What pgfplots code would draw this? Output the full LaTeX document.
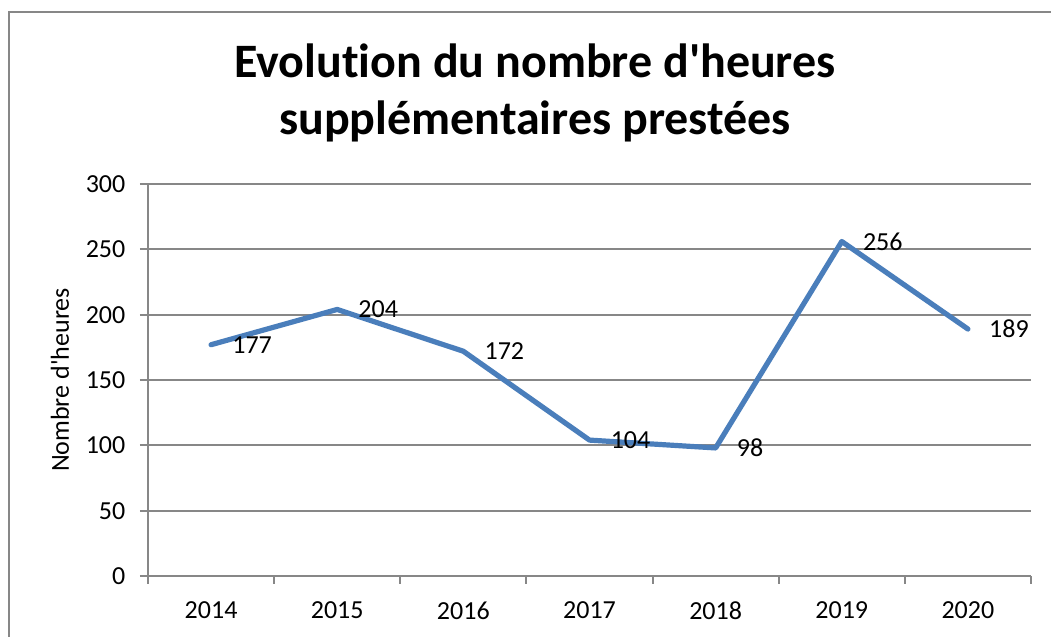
\documentclass[border=0pt]{standalone}
\usepackage{fontspec}
\setmainfont{Carlito}[Ligatures={TeXOff,NoCommon}]
\usepackage{pgfplots}
\pgfplotsset{compat=1.18}
\definecolor{serie}{HTML}{4A7EBB}
\definecolor{gridg}{HTML}{878787}
\begin{document}
\begin{tikzpicture}[x=0.5pt,y=0.5pt]
\useasboundingbox (0,0) rectangle (1051,637);
\clip (0,0) rectangle (1051,637);
\draw[gridg, line width=1pt] (9,-20) -- (9,625) -- (1080,625);
\node[font=\fontsize{24}{29}\selectfont\bfseries, anchor=base] at (535,559) {Evolution du nombre d'heures};
\node[font=\fontsize{24}{29}\selectfont\bfseries, anchor=base] at (535,502) {supplémentaires prestées};
\begin{axis}[
  at={(74pt,30.5pt)}, anchor=south west,
  scale only axis, width=441.5pt, height=196pt,
  xmin=-0.5, xmax=6.5, ymin=0, ymax=300,
  axis lines=left, axis line style={gridg, line width=1pt, -},
  ytick={0,50,...,300}, ymajorgrids, grid style={gridg, line width=1pt},
  xtick={-0.5,0.5,...,6.5}, xticklabels={},
  extra x ticks={0,1,2,3,4,5,6},
  extra x tick labels={2014,2015,2016,2017,2018,2019,2020},
  extra x tick style={major tick length=0pt, xticklabel style={yshift=-9.5pt}},
  tick align=outside, major tick length=4pt,
  tick style={gridg, line width=1pt},
  /pgf/number format/assume math mode=true,
  every tick label/.append style={font=\fontsize{13}{15.6}\selectfont},
  yticklabel style={xshift=-3.8pt},
  ylabel={Nombre d'heures},
  ylabel style={at={(axis description cs:-0.0997,0.5)}, anchor=center, font=\fontsize{13}{15.6}\selectfont},
  clip=false,
]
\addplot[serie, line width=2.6pt, line join=round, line cap=round,
  nodes near coords, point meta=explicit symbolic,
  nodes near coords style={anchor=west, xshift=6pt, text=black, font=\fontsize{13}{15.6}\selectfont}]
  table[meta=lab] {
x y lab
0 177 177
1 204 204
2 172 172
3 104 104
4 98 98
5 256 256
6 189 189
};
\end{axis}
\end{tikzpicture}
\end{document}
